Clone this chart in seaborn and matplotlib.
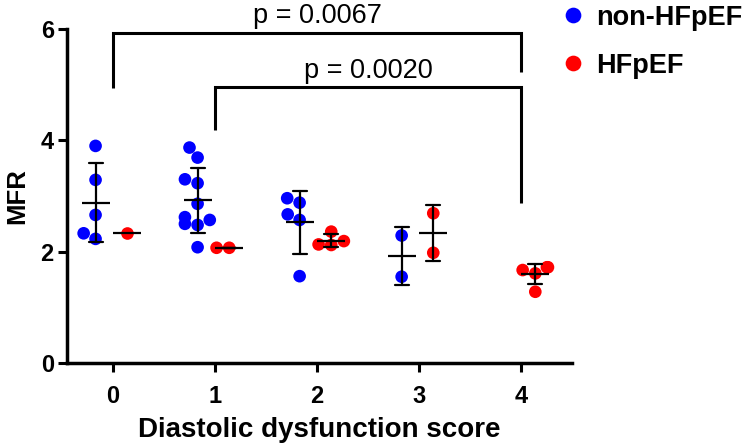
import numpy as np
import pandas as pd
import matplotlib
matplotlib.use("Agg")
import matplotlib.pyplot as plt
from matplotlib.lines import Line2D
import seaborn as sns

# ---- data ----
scores = [0, 1, 2, 3, 4]
groups = ["non-HFpEF", "HFpEF"]
colors = ["#0000FF", "#FF0000"]

non_hfpef_0 = [3.90, 3.29, 2.66, 2.33, 2.23]
non_hfpef_1 = [3.87, 3.69, 3.23, 3.30, 2.86, 2.62, 2.57, 2.50, 2.48, 2.08]
non_hfpef_2 = [2.96, 2.88, 2.67, 2.57, 1.56]
non_hfpef_3 = [2.29, 1.55]
non_hfpef_4 = []

hfpef_0 = [2.33]
hfpef_1 = [2.07, 2.07]
hfpef_2 = [2.19, 2.12, 2.13, 2.36]
hfpef_3 = [2.69, 1.98]
hfpef_4 = [1.72, 1.72, 1.67, 1.61, 1.28]

# significance brackets
bracket_pairs = [(0, 4), (1, 4)]
bracket_tops = [5.93, 4.95]
bracket_left_ends = [4.94, 4.19]
bracket_right_ends = [5.23, 2.88]
bracket_labels = ["p = 0.0067", "p = 0.0020"]

# ---- build table ----
series = {
    "non-HFpEF": [non_hfpef_0, non_hfpef_1, non_hfpef_2, non_hfpef_3, non_hfpef_4],
    "HFpEF": [hfpef_0, hfpef_1, hfpef_2, hfpef_3, hfpef_4],
}
group_offset = {"non-HFpEF": -0.17, "HFpEF": 0.14}
rows = []
for g in groups:
    for s, vals in zip(scores, series[g]):
        for v in vals:
            rows.append({"score": s, "pos": s + group_offset[g], "group": g, "MFR": v})
df = pd.DataFrame(rows)

# ---- style ----
sns.set_style("ticks")
plt.rcParams["font.family"] = ["Liberation Sans", "DejaVu Sans"]
plt.rcParams.update({"text.color": "black", "axes.labelcolor": "black",
                     "xtick.color": "black", "ytick.color": "black",
                     "axes.edgecolor": "black"})

fig = plt.figure(figsize=(7.46, 4.48), dpi=100)
ax = fig.add_axes([0.0898, 0.1897, 0.6770, 0.7456])

sns.swarmplot(data=df, x="pos", y="MFR", hue="group", hue_order=groups,
              palette=dict(zip(groups, colors)), native_scale=True, orient="x",
              size=9.1, linewidth=0, legend=False, ax=ax, zorder=2)

sns.pointplot(data=df, x="pos", y="MFR", hue="group", hue_order=groups,
              palette={g: "black" for g in groups}, native_scale=True, orient="x",
              errorbar="sd", markers="_", linestyles="none", capsize=0.44,
              err_kws={"linewidth": 1.6}, markersize=20.7, markeredgewidth=1.6,
              legend=False, ax=ax)
for ln in ax.lines:
    ln.set_zorder(3)

# brackets
for (xl, xr), yt, yl, yr, lab in zip(bracket_pairs, bracket_tops,
                                      bracket_left_ends, bracket_right_ends,
                                      bracket_labels):
    ax.plot([xl, xl, xr, xr], [yl, yt, yt, yr], color="black", lw=2.2,
            clip_on=False, solid_capstyle="butt", solid_joinstyle="miter", zorder=4)
    ax.text((xl + xr) / 2, yt + 0.17, lab, ha="center", va="baseline",
            fontsize=19.5, clip_on=False)

ax.set_xlim(-0.45, 4.5)
ax.set_ylim(0, 6)
ax.set_xticks(scores)
ax.set_xticklabels([str(s) for s in scores])
ax.set_yticks([0, 2, 4, 6])
ax.set_yticklabels(["0", "2", "4", "6"])
for lab in ax.get_xticklabels() + ax.get_yticklabels():
    lab.set_fontweight("bold")
ax.tick_params(axis="both", labelsize=17, width=2.2, length=6.5, color="black",
               labelcolor="black")
ax.tick_params(axis="x", pad=9)
ax.tick_params(axis="y", pad=3)
for sp in ["left", "bottom"]:
    ax.spines[sp].set_linewidth(2.5)
    ax.spines[sp].set_color("black")
sns.despine(ax=ax)

ax.set_xlabel("Diastolic dysfunction score", fontsize=20, fontweight="bold",
              labelpad=7)
ax.set_ylabel("MFR", fontsize=18.5, fontweight="bold", labelpad=8)

handles = [Line2D([], [], marker="o", linestyle="none", color=c,
                  markersize=11.3, markeredgewidth=0) for c in colors]
fig.legend(handles, groups, loc="upper left", bbox_to_anchor=(0.7466, 0.996),
           frameon=False, prop={"weight": "bold", "size": 19.5},
           handlelength=1.0, handletextpad=0.35, labelspacing=0.82,
           borderpad=0.1, borderaxespad=0)

fig.savefig("out.png", dpi=100)
